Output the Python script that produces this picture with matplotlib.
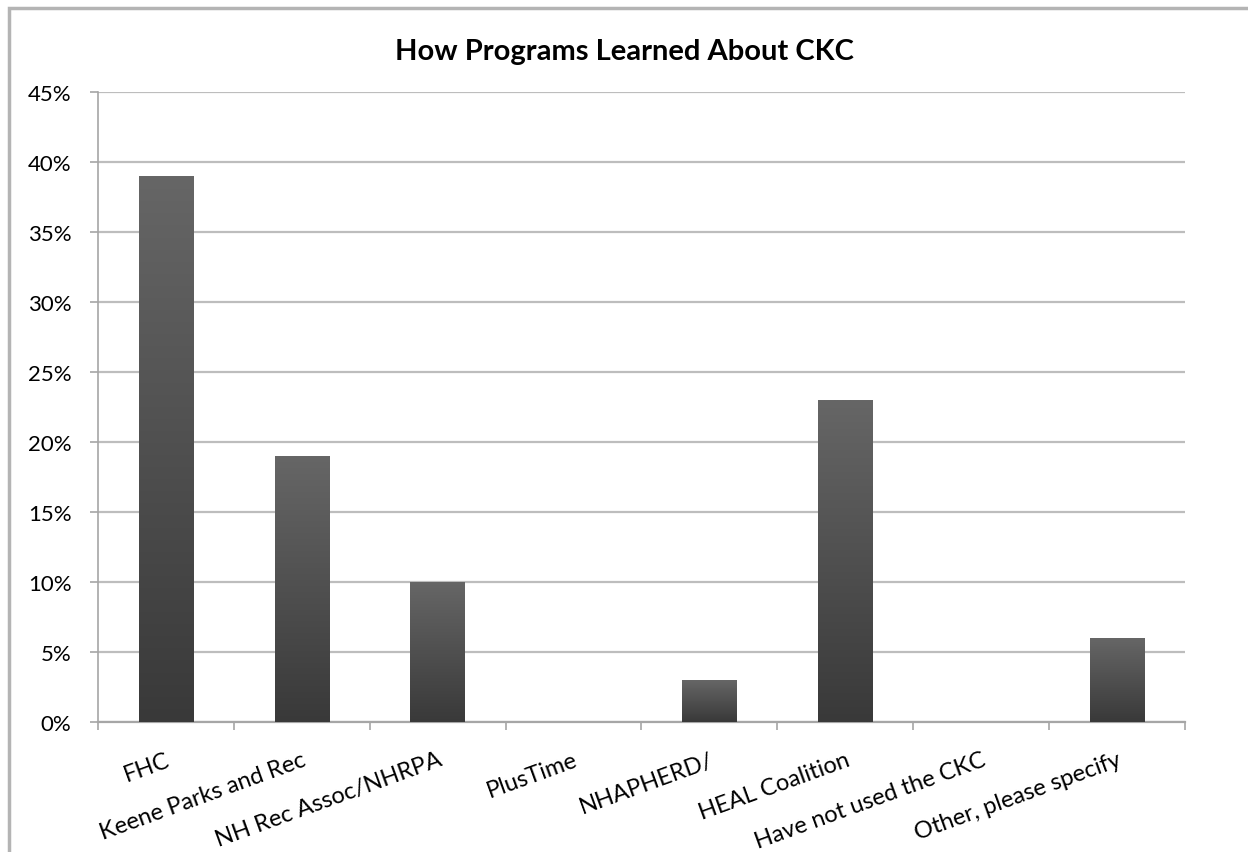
import matplotlib
matplotlib.use("Agg")
import matplotlib.pyplot as plt
import numpy as np
from matplotlib.patches import Rectangle
from matplotlib.ticker import MultipleLocator, FuncFormatter

categories = ["FHC", "Keene Parks and Rec", "NH Rec Assoc/NHRPA", "PlusTime",
              "NHAPHERD/", "HEAL Coalition", "Have not used the CKC",
              "Other, please specify"]
values = [39, 19, 10, 0, 3, 23, 0, 6]

plt.rcParams["font.family"] = ["Lato", "DejaVu Sans"]

fig = plt.figure(figsize=(12.48, 8.53), dpi=100)
ax = fig.add_axes([0.0785, 0.1524, 0.871, 0.7385])

# chart frame (top and left edges visible)
fig.patches.append(Rectangle((9 / 1248, -0.1), 1.2, 1 - 9 / 853 + 0.1,
                             transform=fig.transFigure, fill=False,
                             edgecolor="#b4b4b4", linewidth=2.5))

x = np.arange(len(categories))
bars = ax.bar(x, values, width=0.4, color="#555555", zorder=2)

# vertical gradient on each bar
grad = np.linspace(0, 1, 256).reshape(-1, 1)
cmap = matplotlib.colors.LinearSegmentedColormap.from_list("g", ["#393939", "#666666"])
for b in bars:
    if b.get_height() <= 0:
        continue
    x0, y0 = b.get_x(), b.get_y()
    im = ax.imshow(grad, extent=[x0, x0 + b.get_width(), y0, y0 + b.get_height()],
                   origin="lower", cmap=cmap, aspect="auto", zorder=3)
    im.set_clip_path(b)

ax.set_xlim(-0.5, len(categories) - 0.5)
ax.set_ylim(0, 45)
ax.yaxis.set_major_locator(MultipleLocator(5))
ax.yaxis.set_major_formatter(FuncFormatter(lambda v, p: f"{v:.0f}%"))
ax.grid(axis="y", color="#bdbdbd", linewidth=1.6, zorder=0)
ax.set_axisbelow(True)

for s in ["top", "right"]:
    ax.spines[s].set_visible(False)
for s in ["bottom", "left"]:
    ax.spines[s].set_color("#a6a6a6")
ax.spines["bottom"].set_linewidth(1.6)
ax.spines["left"].set_linewidth(1.2)

ax.set_xticks(x)
ax.set_xticklabels(categories, rotation=20, ha="right", va="top",
                   rotation_mode="anchor", fontsize=17)
ax.tick_params(axis="x", length=0, pad=19)
ax.set_xticks(np.arange(-0.5, len(categories)), minor=True)
ax.tick_params(axis="x", which="minor", length=6, color="#a6a6a6", width=1.2)
ax.tick_params(axis="y", labelsize=16, length=6, color="#a6a6a6", width=1.2, pad=13)

fig.text(0.5, 1 - 52 / 853, "How Programs Learned About CKC", ha="center",
         va="center", fontsize=21, fontweight="bold")

fig.savefig("out.png", dpi=100)
